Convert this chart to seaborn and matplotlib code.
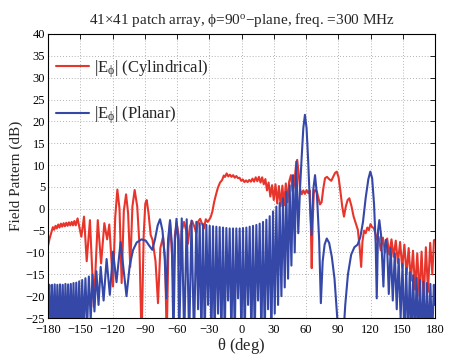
import matplotlib
matplotlib.use("Agg")
import matplotlib.pyplot as plt
import seaborn as sns
import pandas as pd

# |E_phi| for the cylindrical (conformal) array, theta in degrees / level in dB
red_theta = [
    -180, -178.5, -177, -175.5, -174.3, -173, -171.8, -170.5, -169.3, -168, -166.8, -165.5,
    -164.3, -163, -161.8, -160.5, -159.3, -158, -156.8, -155.5, -154.2, -152.5, -149, -146.5,
    -144, -141, -137.4, -133.7, -130.6, -127.6, -125, -123, -119.5, -117.5, -115.5, -113.5,
    -111.5, -109.5, -107.4, -105.5, -103.5, -101.5, -99.4, -97, -95, -93, -91, -89.5, -88.2,
    -86.5, -84.5, -82.8, -80, -77.7, -75.5, -73, -71, -69.6, -68, -66.5, -65, -63.4, -62,
    -60.3, -58.5, -57, -55.5, -53.5, -51.5, -49.8, -48, -46, -44, -42, -40.5, -38.5, -36.8,
    -35, -33.2, -31.5, -30, -28.5, -27, -25.5, -24, -22, -20, -18, -16.5, -15.3, -13.8,
    -12.3, -10.8, -9.3, -7.8, -6.3, -4.8, -3.3, -1.8, -0.3, 1.2, 2.7, 4.2, 5.7, 7.2, 8.7,
    10.2, 11.7, 13.2, 14.7, 16.2, 17.7, 19.2, 20.7, 22.2, 23.7, 25.2, 26.8, 28.4, 30.0,
    31.6, 33.2, 34.8, 36.4, 38.0, 39.6, 41.2, 42.8, 44.3, 46.0, 47.5, 49.0, 50.5, 51.8,
    53.2, 54.5, 56.0, 57.5, 59.0, 60.5, 62, 63.5, 64.5, 65.3, 66.2, 67.2, 68.5, 70, 71.5,
    73, 74.5, 76, 77.7, 79.5, 81.5, 83.5, 85.5, 87, 88.6, 90.3, 92, 93.7, 95.3, 97, 98.7,
    100.3, 102.3, 104.3, 106.3, 108.2, 109.8, 111.3, 112.5, 114, 115.5, 117, 118.5, 120,
    121.5, 123, 124.5, 126, 127.5, 129.5, 131.5, 133.5, 135.5, 137.5, 139.5, 141.5, 143.5,
    145.5, 147.5, 149.5, 151.5, 153.5, 155.5, 157.5, 159.5, 161.5, 163.5, 165.5, 167.5,
    169.5, 171.5, 173.5, 175.5, 177.5, 179, 180,
]
red_db = [
    -8.5, -6.8, -5.5, -4.2, -4.8, -3.9, -4.5, -3.6, -4.3, -3.4, -4.1, -3.3,
    -4.0, -3.2, -3.9, -3.1, -3.8, -3.0, -3.8, -2.8, -3.8, -2.2, -6.4, -1.8,
    -12.0, -2.6, -22.4, -2.6, -12.5, -3.3, -7.0, -3.6, -17.8, -2.0, 4.4, 0.0,
    -17.0, -0.5, 3.3, -1.0, -13.3, 0.5, 4.3, 0.5, -8.0, -30.0, -6.0, 1.2, 2.0,
    -1.0, -6.0, -7.1, -12.0, -21.6, -9.0, -6.4, -12.0, -30.0, -9.0, -3.0, -9.0, -16.3, -6.0,
    -3.3, -6.0, -13.0, -5.0, -3.0, -5.0, -8.0, -4.0, -2.8, -4.0, -5.6, -3.0, -2.3, -3.4,
    -4.5, -2.4, -3.0, -2.5, -1.8, -0.5, 1.5, 3.0, 4.8, 6.0, 6.6, 7.6, 7.3, 8.1,
    7.4, 7.8, 7.3, 7.7, 7.1, 7.5, 7.0, 7.1, 6.4, 6.7, 6.1, 6.5, 6.1, 6.6, 6.2,
    6.9, 6.2, 7.2, 6.3, 7.3, 6.0, 7.2, 5.6, 6.8, 4.2, 6.0, 2.8, 5.4, 2.0,
    5.6, 1.2, 5.2, 0.6, 5.3, 0.8, 5.8, 1.5, 6.2, 7.7, 4.0, 5.5, 9.5, 11.2,
    8.0, 4.5, 3.3, 4.2, 3.4, 4.3, 3.6, 4.2, -4.0, -13.6, -3.0, 3.5, 4.3, 4.0, 2.5,
    1.0, 1.5, 4.5, 7.0, 7.3, 6.8, 6.4, 7.4, 8.2, 8.5, 7.2, 4.0, 0.5, -1.8, 0.5, 2.0,
    2.4, 0.6, -1.8, -3.3, -4.8, -8.5, -13.3, -7.5, -5.0, -5.6, -4.3, -4.9, -3.5,
    -4.2, -4.4, -5.6, -7.1, -6.4, -9.5, -6.6, -10.0, -6.8, -10.5, -7.0, -11.0, -7.3,
    -12.4, -7.6, -13.5, -8.2, -15.0, -9.0, -16.5, -9.6, -18.5, -10.2, -20.0, -9.8,
    -21.0, -8.8, -19.0, -7.8, -15.0, -7.2, -7.1,
]

# |E_phi| for the planar array
blue_theta = [
    -180, -178.8, -177.5, -176.3, -175.0, -173.8, -172.5, -171.3, -170.0, -168.8, -167.5,
    -166.3, -165.0, -163.8, -162.5, -161.3, -160.0, -158.8, -157.5, -156.3, -155.0, -153.7,
    -152.3, -151.0, -149.6, -148.2, -146.7, -145.2, -143.6, -142.0, -140.3, -138.6, -136.8,
    -135.0, -133.0, -131.0, -128.3, -125.5, -122.5, -119.5, -116.3, -112.5, -107, -104,
    -101, -97.5, -93, -89, -86, -83, -80.5, -78, -75.8, -73.5, -71.5, -70, -68.3, -66.5,
    -64.8, -63.3, -61.8, -60.5, -59, -58, -55.6, -53.3, -51, -48.7, -46.5, -44.2, -42,
    -40.4, -38.9, -37.3, -35.8, -34.2, -32.7, -31.1, -29.6, -28, -26.5, -25, -23.4, -21.8,
    -20.3, -18.7, -17.2, -15.6, -14.1, -12.5, -11.0, -9.4, -7.9, -6.3, -4.8, -3.2, -1.7,
    -0.1, 1.4, 3.0, 4.5, 6.1, 7.6, 9.2, 10.7, 12.3, 13.8, 15.4, 16.9, 18.5, 20.0, 21.6,
    23.1, 24.7, 26.2, 27.8, 29.3, 30.9, 32.4, 34.0, 35.5, 37.1, 38.6, 40.2, 41.7, 43.3,
    44.8, 46.4, 47.9, 49.5, 51.0, 52.8, 54.5, 56, 57.5, 59, 60.5, 62, 63.5, 65.2, 66.8,
    68.4, 70.2, 72.2, 73.8, 75.5, 77.3, 79.3, 81.5, 84, 86.5, 88.5, 90.5, 92.5, 94.5, 96.5,
    99, 102, 105, 108, 110.5, 113, 115.5, 118, 119.8, 121.5, 123.3, 124.8, 125.8, 127,
    128.2, 129.8, 132, 133.2, 134.3, 135.5, 137, 138.8, 140.7, 142.6, 144.4, 146.2, 148,
    149.8, 151.5, 153.2, 154.9, 156.5, 158.1, 159.7, 161.3, 162.9, 164.5, 166.1, 167.7,
    169.3, 170.9, 172.5, 174.1, 175.7, 177.3, 178.9, 180,
]
blue_db = [
    -22.0, -17.4, -30.0, -17.4, -30.0, -17.3, -30.0, -17.4, -30.0, -17.3, -30.0,
    -17.4, -30.0, -17.2, -30.0, -17.3, -30.0, -17.2, -30.0, -17.0, -30.0, -16.9,
    -30.0, -16.6, -30.0, -16.3, -28.0, -15.9, -27.0, -15.5, -25.5, -15.0, -23.5,
    -14.3, -22.0, -13.3, -21.0, -11.5, -19.7, -9.8, -16.8, -7.6, -20.0, -13.0,
    -9.5, -7.7, -7.0, -7.3, -8.4, -9.4, -7.0, -3.8, -2.4, -5.0, -11.0, -20.5, -7.0, -2.6,
    -8.0, -30.0, -7.0, -2.3, -7.0, -30.0, -2.2, -30.0, -2.4, -30.0, -2.7, -30.0, -3.0,
    -23.0, -3.3, -30.0, -3.5, -30.0, -3.7, -22.0, -3.9, -30.0, -4.0, -30.0, -4.1, -24.0,
    -4.2, -30.0, -4.3, -30.0, -4.4, -21.0, -4.5, -30.0, -4.5, -30.0, -4.5, -20.5, -4.5,
    -30.0, -4.4, -30.0, -4.3, -22.0, -4.1, -30.0, -3.9, -30.0, -3.7, -21.0, -3.4, -30.0, -3.0, -30.0,
    -2.5, -23.0, -1.7, -30.0, -0.6, -24.0, 0.5, -22.0, 1.3, -20.0, 2.4, -18.0, 3.9, -16.0,
    5.4, -13.0, 7.7, -10.0, 10.8, -5.6, 5.0, 12.0, 18.5, 21.5, 18.5, 11.0, 2.0, -6.0, 4.5,
    7.7, 3.0, -7.0, -21.6, -12.0, -8.2, -6.8, -7.8, -11.0, -16.0, -23.0, -30.0, -32.0, -30.0, -22.0,
    -15.0, -10.5, -8.8, -8.2, -6.5, -3.0, 2.5, 6.8, 8.5, 7.0, 1.0, -8.0, -20.5, -5.0,
    -2.6, -6.0, -17.8, -9.0, -7.1, -9.0, -19.5, -9.0, -21.0, -10.2, -23.0, -11.5, -25.0,
    -12.6, -30.0, -13.6, -30.0, -14.5, -30.0, -15.2, -30.0, -15.8, -30.0, -16.3, -30.0,
    -16.7, -30.0, -17.0, -30.0, -17.2, -30.0, -17.4, -22.0,
]

x_ticks = list(range(-180, 181, 30))
y_ticks = list(range(-25, 41, 5))

sns.set_style("white")
plt.rcParams["font.family"] = ["Liberation Serif", "DejaVu Serif"]
plt.rcParams["mathtext.fontset"] = "stix"
plt.rcParams["mathtext.default"] = "regular"

red_df = pd.DataFrame({"theta": red_theta, "db": red_db})
blue_df = pd.DataFrame({"theta": blue_theta, "db": blue_db})

fig = plt.figure(figsize=(4.5, 3.57), dpi=100)
ax = fig.add_axes([0.1067, 0.1092, 0.86, 0.7956])

sns.lineplot(data=red_df, x="theta", y="db", ax=ax, color="#e8352c", linewidth=1.5,
             estimator=None, sort=False, label=r"|E$_{\phi}$| (Cylindrical)")
sns.lineplot(data=blue_df, x="theta", y="db", ax=ax, color="#3548a8", linewidth=1.5,
             estimator=None, sort=False, label=r"|E$_{\phi}$| (Planar)")

ax.set_xlim(-180, 180)
ax.set_ylim(-25, 40)
ax.set_xticks(x_ticks)
ax.set_yticks(y_ticks)
ax.set_xticklabels([str(t).replace("-", "\u2212") for t in x_ticks])
ax.set_yticklabels([str(t).replace("-", "\u2212") for t in y_ticks])
ax.tick_params(direction="in", length=3.5, width=0.6, labelsize=9, pad=2,
               top=True, right=True, colors="black")
ax.tick_params(axis="x", pad=4)
ax.grid(True, linestyle=(0, (1, 2.5)), color="#9a9a9a", linewidth=0.6)
for s in ax.spines.values():
    s.set_color("black")
    s.set_linewidth(0.8)

ax.set_xlabel(r"$\theta$ (deg)", fontsize=12, labelpad=0)
ax.set_ylabel("Field Pattern (dB)", fontsize=11, labelpad=2)
ax.set_title(r"41$\times$41 patch array, $\phi$=90$^{o}$$-$plane, freq. =300 MHz",
             fontsize=11, pad=7)

ax.legend(loc="upper left", bbox_to_anchor=(0.02, 0.915), frameon=False, fontsize=12,
          handlelength=2.0, handletextpad=0.3, labelspacing=1.5, borderpad=0,
          borderaxespad=0)

fig.savefig("out.png", dpi=100)
